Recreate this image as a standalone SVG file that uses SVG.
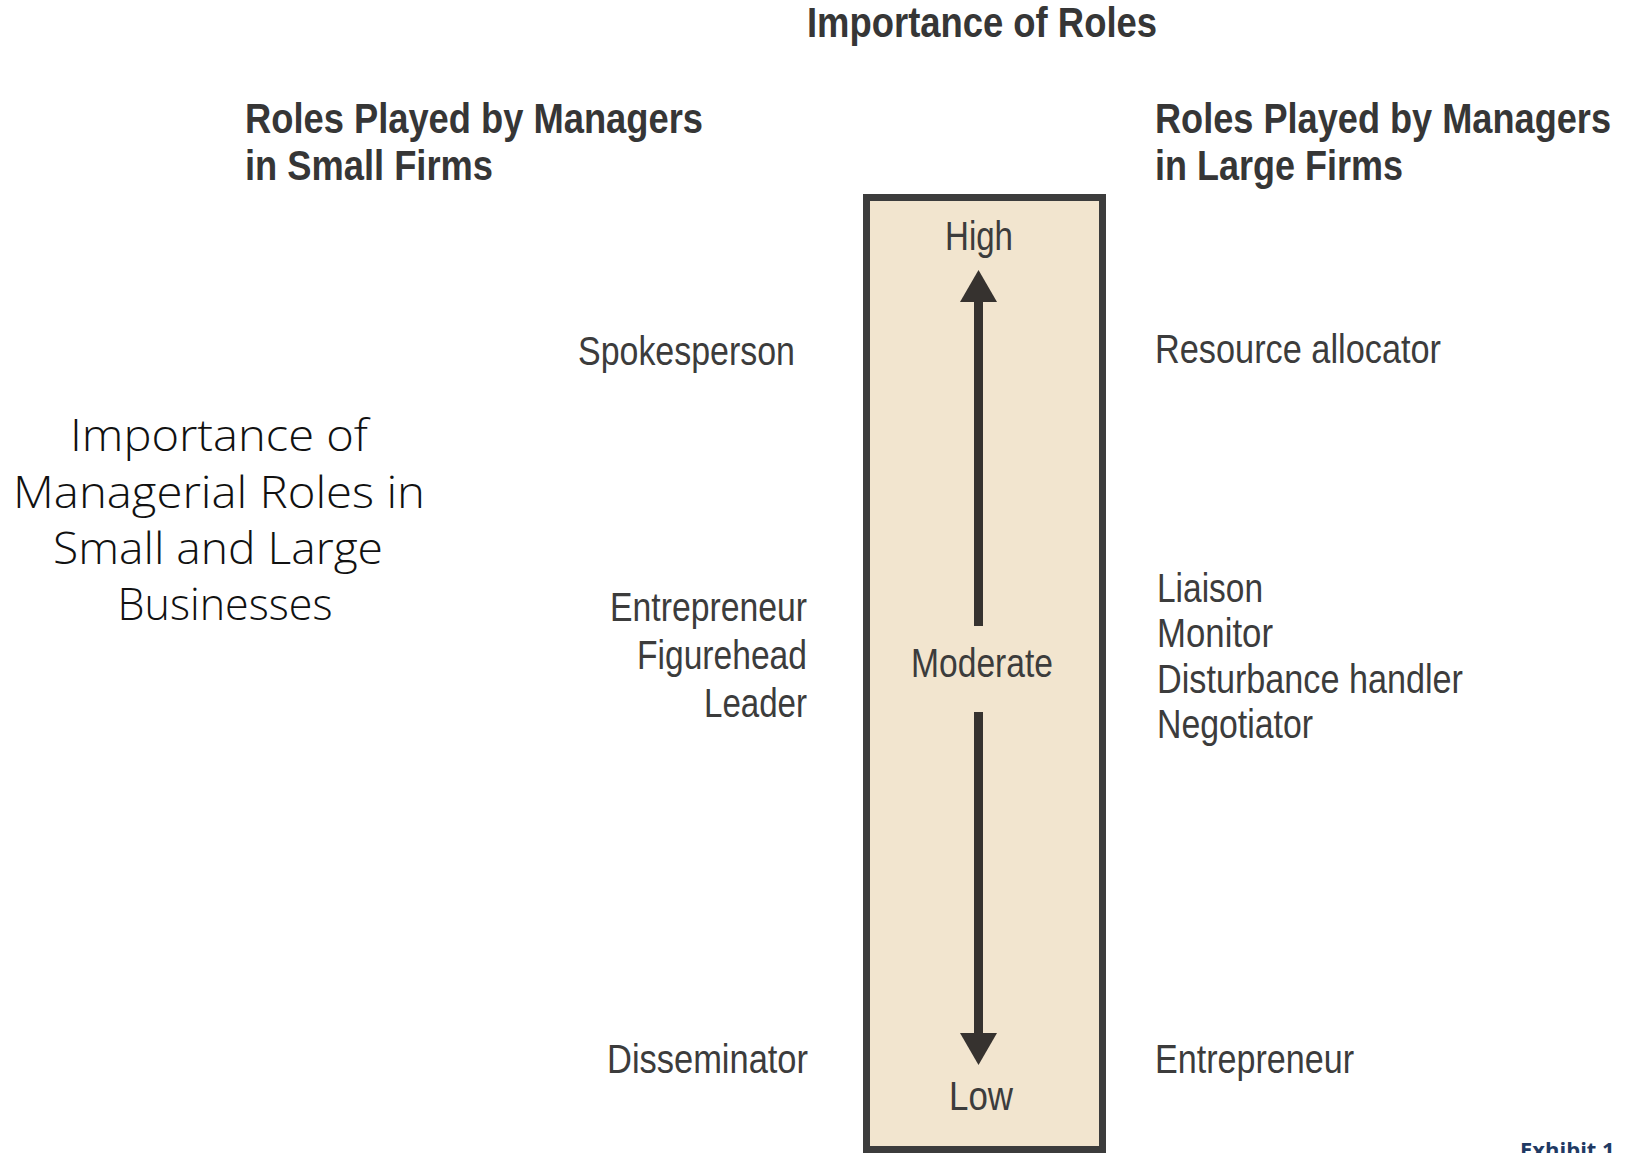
<svg xmlns="http://www.w3.org/2000/svg" width="1626" height="1153" viewBox="0 0 1626 1153">
  <defs>
    <style>
      .hdr { font-family: "Liberation Sans Narrow", "Liberation Sans", Arial, sans-serif; font-weight: bold; font-size: 42px; fill: #363636; }
      .lbl { font-family: "Liberation Sans Narrow", "Liberation Sans", Arial, sans-serif; font-size: 40px; fill: #3c3c3c; }
      .ttl { font-family: "Open Sans", "Lato", sans-serif; font-weight: 300; font-size: 45px; fill: #111111; }
      .exh { font-family: "Open Sans", "Liberation Sans", sans-serif; font-weight: bold; font-size: 22px; fill: #1f3a64; }
      .scale { fill: #f2e5cf; stroke: #3c3c3c; stroke-width: 7; }
      .arrow { stroke: #36322f; stroke-width: 9; fill: none; }
    </style>
    <marker id="head" markerUnits="userSpaceOnUse" viewBox="0 0 32 37" markerWidth="32" markerHeight="37" refX="2" refY="18.5" orient="auto">
      <path d="M0,0 L32,18.5 L0,37 Z" fill="#36322f"/>
    </marker>
  </defs>

  <rect width="1626" height="1153" fill="#ffffff"/>

  <!-- slide title -->
  <g id="slide-title">
    <text class="ttl" text-anchor="middle" x="219" y="451" textLength="298" lengthAdjust="spacingAndGlyphs">Importance of</text>
    <text class="ttl" text-anchor="middle" x="219" y="508" textLength="412" lengthAdjust="spacingAndGlyphs">Managerial Roles in</text>
    <text class="ttl" text-anchor="middle" x="218" y="564" textLength="330" lengthAdjust="spacingAndGlyphs">Small and Large</text>
    <text class="ttl" text-anchor="middle" x="225" y="620" textLength="215" lengthAdjust="spacingAndGlyphs">Businesses</text>
  </g>

  <!-- headings -->
  <g id="heading-importance">
    <text class="hdr" x="807" y="37" textLength="350" lengthAdjust="spacingAndGlyphs">Importance of Roles</text>
  </g>
  <g id="heading-small">
    <text class="hdr" x="245" y="133" textLength="458" lengthAdjust="spacingAndGlyphs">Roles Played by Managers</text>
    <text class="hdr" x="245" y="180" textLength="248" lengthAdjust="spacingAndGlyphs">in Small Firms</text>
  </g>
  <g id="heading-large">
    <text class="hdr" x="1155" y="133" textLength="456" lengthAdjust="spacingAndGlyphs">Roles Played by Managers</text>
    <text class="hdr" x="1155" y="180" textLength="248" lengthAdjust="spacingAndGlyphs">in Large Firms</text>
  </g>

  <!-- importance scale -->
  <g id="scale">
    <rect class="scale" x="866.5" y="197.5" width="236" height="952"/>
    <text class="lbl" text-anchor="middle" x="979" y="250" textLength="68" lengthAdjust="spacingAndGlyphs">High</text>
    <text class="lbl" text-anchor="middle" x="982" y="677" textLength="142" lengthAdjust="spacingAndGlyphs">Moderate</text>
    <text class="lbl" text-anchor="middle" x="981" y="1110" textLength="64" lengthAdjust="spacingAndGlyphs">Low</text>
  </g>

  <!-- small-firm roles -->
  <g id="small-high">
    <text class="lbl" x="578" y="365" textLength="217" lengthAdjust="spacingAndGlyphs">Spokesperson</text>
  </g>
  <g id="small-moderate">
    <text class="lbl" text-anchor="end" x="807" y="621" textLength="197" lengthAdjust="spacingAndGlyphs">Entrepreneur</text>
    <text class="lbl" text-anchor="end" x="807" y="669" textLength="170" lengthAdjust="spacingAndGlyphs">Figurehead</text>
    <text class="lbl" text-anchor="end" x="807" y="717" textLength="103" lengthAdjust="spacingAndGlyphs">Leader</text>
  </g>
  <g id="small-low">
    <text class="lbl" x="607" y="1073" textLength="201" lengthAdjust="spacingAndGlyphs">Disseminator</text>
  </g>

  <!-- large-firm roles -->
  <g id="large-high">
    <text class="lbl" x="1155" y="363" textLength="286" lengthAdjust="spacingAndGlyphs">Resource allocator</text>
  </g>
  <g id="large-moderate">
    <text class="lbl" x="1157" y="602" textLength="106" lengthAdjust="spacingAndGlyphs">Liaison</text>
    <text class="lbl" x="1157" y="647" textLength="116" lengthAdjust="spacingAndGlyphs">Monitor</text>
    <text class="lbl" x="1157" y="693" textLength="306" lengthAdjust="spacingAndGlyphs">Disturbance handler</text>
    <text class="lbl" x="1157" y="738" textLength="156" lengthAdjust="spacingAndGlyphs">Negotiator</text>
  </g>
  <g id="large-low">
    <text class="lbl" x="1155" y="1073" textLength="199" lengthAdjust="spacingAndGlyphs">Entrepreneur</text>
  </g>

  <!-- scale arrows -->
  <g id="connectors">
    <line class="arrow" x1="978.5" y1="626" x2="978.5" y2="300" marker-end="url(#head)"/>
    <line class="arrow" x1="978.5" y1="712" x2="978.5" y2="1035" marker-end="url(#head)"/>
  </g>

  <g id="exhibit-label">
    <text class="exh" x="1520" y="1158">Exhibit 1</text>
  </g>
</svg>
